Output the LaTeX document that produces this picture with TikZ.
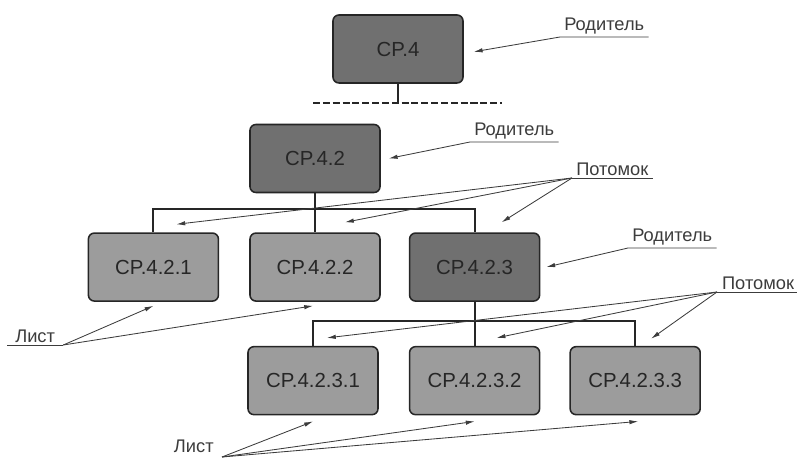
\documentclass[tikz,border=0pt]{standalone}
\usepackage{fontspec}
\setmainfont{Liberation Sans}
\usepackage{tikz}
\usetikzlibrary{positioning}
\usetikzlibrary{arrows.meta}

\definecolor{darkfill}{RGB}{112,112,112}
\definecolor{lightfill}{RGB}{156,156,156}
\definecolor{inkgray}{RGB}{60,60,60}

\tikzset{
    crbox/.style={draw=black!85, line width=1.1pt, rounded corners=0.15cm,
        minimum width=3.25cm, minimum height=1.7cm, inner sep=0pt,
        font=\fontsize{14.5}{17}\selectfont, text=black!85},
    parentbox/.style={crbox, fill=darkfill},
    leafbox/.style={crbox, fill=lightfill},
    tree/.style={line width=1.3pt, black!85},
    callout/.style={anchor=south west, inner xsep=0.1cm, inner ysep=0.06cm,
        font=\fontsize{13}{15}\selectfont, text=inkgray},
    underline/.style={inkgray, line width=0.6pt},
    pointer/.style={inkgray, line width=0.6pt, -{Latex[length=2.2mm,width=1.1mm]}},
}

\begin{document}
\begin{tikzpicture}[x=0.025cm, y=-0.025cm]
    \useasboundingbox (0,0) rectangle (797,458);

    % tree of blocks
    \node[parentbox] (cp4) at (398,49) {CP.4};
    \node[parentbox] (cp42) at (315,158.5) {CP.4.2};
    \node[leafbox, below=0.975cm of cp42] (cp422) {CP.4.2.2};
    \node[leafbox, left=0.75cm of cp422] (cp421) {CP.4.2.1};
    \node[parentbox, right=0.7cm of cp422] (cp423) {CP.4.2.3};
    \node[leafbox, below=1.1cm of cp423] (cp4232) {CP.4.2.3.2};
    \node[leafbox, left=0.75cm of cp4232] (cp4231) {CP.4.2.3.1};
    \node[leafbox, right=0.725cm of cp4232] (cp4233) {CP.4.2.3.3};

    \coordinate (bus0) at (cp4.south |- 0,103);
    \coordinate (bus0l) at (313,103);
    \coordinate (bus0r) at (502,103);
    \coordinate (bus1) at (cp42.south |- 0,209);
    \coordinate (bus2) at (cp4232.north |- 0,321);

    \draw[tree] (cp4.south) -- (bus0);
    \draw[tree, dashed, dash pattern=on 5pt off 2pt] (bus0l) -- (bus0r);
    \draw[tree] (cp42.south) -- (cp422.north);
    \draw[tree] (cp421.north) |- (bus1) -| (cp423.north);
    \draw[tree] (cp423.south) -- (cp4232.north);
    \draw[tree] (cp4231.north) |- (bus2) -| (cp4233.north);

    % labels
    \node[callout] (par1) at (560,37) {Родитель};
    \node[callout] (par2) at (470,142) {Родитель};
    \node[callout] (par3) at (628,248) {Родитель};
    \node[callout] (desc1) at (572,178) {Потомок};
    \node[callout, inner xsep=0.12cm] (desc2) at (717,292) {Потомок};
    \node[callout, inner xsep=0.2cm] (leaf1) at (7,345) {Лист};
    \node[callout, anchor=south east, inner sep=0pt] (leaf2) at (214,453) {Лист};

    \draw[pointer] (par1.south east) -- (par1.south west) -- ([xshift=0.25cm,yshift=-0.07cm]cp4.east);
    \draw[pointer] (par2.south east) -- (par2.south west) -- ([xshift=0.2cm]cp42.east);
    \draw[pointer] (par3.south east) -- (par3.south west) -- ([xshift=0.15cm]cp423.east);

    \draw[underline] (desc1.south east) -- (desc1.south west);
    \draw[pointer] (desc1.south west) -- ([xshift=0.575cm,yshift=0.2cm]cp421.north);
    \draw[pointer] (desc1.south west) -- ([xshift=0.75cm,yshift=0.25cm]cp422.north);
    \draw[pointer] (desc1.south west) -- ([xshift=0.675cm,yshift=0.25cm]cp423.north);

    \draw[underline] (desc2.south east) -- (desc2.south west);
    \draw[pointer] (desc2.south west) -- ([xshift=0.35cm,yshift=0.2cm]cp4231.north);
    \draw[pointer] (desc2.south west) -- ([xshift=0.55cm,yshift=0.2cm]cp4232.north);
    \draw[pointer] (desc2.south west) -- ([xshift=0.4cm,yshift=0.18cm]cp4233.north);

    \draw[underline] (leaf1.south east) -- (leaf1.south west);
    \draw[pointer] (leaf1.south east) -- ([yshift=-0.1cm]cp421.south);
    \draw[pointer] (leaf1.south east) -- ([xshift=-0.05cm,yshift=-0.1cm]cp422.south);

    \draw[pointer] ([xshift=0.2cm,yshift=-0.1cm]leaf2.south east) -- ([yshift=-0.15cm]cp4231.south);
    \draw[pointer] ([xshift=0.2cm,yshift=-0.1cm]leaf2.south east) -- ([yshift=-0.15cm]cp4232.south);
    \draw[pointer] ([xshift=0.2cm,yshift=-0.1cm]leaf2.south east) -- ([xshift=0.075cm,yshift=-0.15cm]cp4233.south);
\end{tikzpicture}
\end{document}
